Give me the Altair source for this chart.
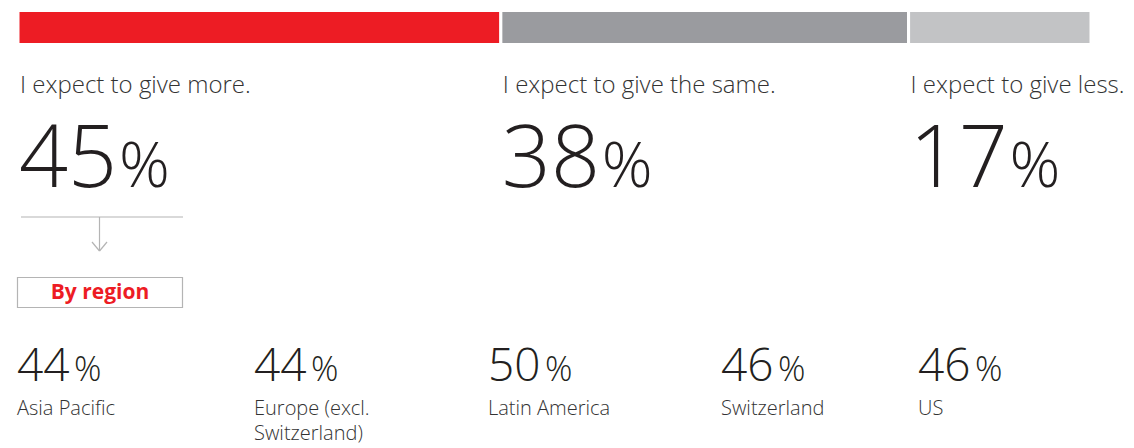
import altair as alt
import pandas as pd

# ---- data ----
answer_labels = ["I expect to give more.", "I expect to give the same.", "I expect to give less."]
answer_values = [45, 38, 17]
answer_colors = ["#ED1C24", "#9A9B9F", "#C2C3C5"]

regions = ["Asia Pacific", "Europe (excl.\nSwitzerland)", "Latin America", "Switzerland", "US"]
region_values = [44, 44, 50, 46, 46]

highlight_label = "By region"

# ---- tables ----
top = pd.DataFrame({"answer": answer_labels, "value": answer_values, "color": answer_colors})
top["end"] = top["value"].cumsum()
top["start"] = top["end"] - top["value"]
top["num"] = top["value"].astype(str)

reg = pd.DataFrame({"region": regions, "value": region_values})
reg["idx"] = range(len(reg))
reg["num"] = reg["value"].astype(str)

one = pd.DataFrame({"k": [0]})

FONT = "Open Sans"
DARK = "#231F20"
LINE = "#B4B4B4"

xs = alt.Scale(domain=[0, 100], range=[10, 1083])
base_top = alt.Chart(top)

bars = base_top.mark_rect(stroke="white", strokeWidth=3).encode(
    x=alt.X("start:Q", scale=xs, axis=None),
    x2="end:Q",
    y=alt.value(2.5), y2=alt.value(36.5),
    color=alt.Color("color:N", scale=None),
)

labels = base_top.mark_text(align="left", baseline="middle", font=FONT, fontSize=24,
                            fontWeight=300, color="#333333", dx=2).encode(
    x=alt.X("start:Q", scale=xs, axis=None), y=alt.value(78), text="answer:N")

bignum = base_top.mark_text(align="left", baseline="alphabetic", font=FONT, fontSize=86,
                            fontWeight=300, color=DARK, dx=1).encode(
    x=alt.X("start:Q", scale=xs, axis=None), y=alt.value(179), text="num:N")

bigpct = base_top.mark_text(align="left", baseline="alphabetic", font=FONT, fontSize=63,
                            fontWeight=300, color=DARK, dx=101).encode(
    x=alt.X("start:Q", scale=xs, axis=None), y=alt.value(179), text=alt.value("%"))

# arrow + box
b1 = alt.Chart(one)
hline = b1.mark_rule(color=LINE, strokeWidth=1.2).encode(
    x=alt.value(13), x2=alt.value(175), y=alt.value(209))
vline = b1.mark_rule(color=LINE, strokeWidth=1.2).encode(
    x=alt.value(91.5), y=alt.value(209), y2=alt.value(243))
arm1 = b1.mark_rule(color=LINE, strokeWidth=1.2).encode(
    x=alt.value(84), y=alt.value(234), x2=alt.value(91.5), y2=alt.value(243))
arm2 = b1.mark_rule(color=LINE, strokeWidth=1.2).encode(
    x=alt.value(99), y=alt.value(234), x2=alt.value(91.5), y2=alt.value(243))
box = b1.mark_rect(fill="white", stroke=LINE, strokeWidth=1.2).encode(
    x=alt.value(9.5), x2=alt.value(174.5), y=alt.value(269.5), y2=alt.value(299.5))
boxtext = b1.mark_text(font=FONT, fontSize=21, fontWeight="bold", color="#ED1C24",
                       align="center", baseline="middle").encode(
    x=alt.value(92), y=alt.value(285), text=alt.value(highlight_label))

# regions: piecewise-linear position scale over region order
rs = alt.Scale(domain=[0, 1, 2, 3, 4], range=[9, 246, 480, 713, 910])
base_reg = alt.Chart(reg)
rnum = base_reg.mark_text(align="left", baseline="alphabetic", font=FONT, fontSize=46,
                          fontWeight=300, color=DARK).encode(
    x=alt.X("idx:Q", scale=rs, axis=None), y=alt.value(373), text="num:N")
rpct = base_reg.mark_text(align="left", baseline="alphabetic", font=FONT, fontSize=34,
                          fontWeight=300, color=DARK, dx=57).encode(
    x=alt.X("idx:Q", scale=rs, axis=None), y=alt.value(373), text=alt.value("%"))
rlab = base_reg.mark_text(align="left", baseline="middle", font=FONT, fontSize=20,
                          fontWeight=300, color="#333333", lineBreak="\n", lineHeight=25).encode(
    x=alt.X("idx:Q", scale=rs, axis=None), y=alt.value(401), text="region:N")

chart = alt.layer(
    bars, labels, bignum, bigpct,
    hline, vline, arm1, arm2, box, boxtext,
    rnum, rpct, rlab,
).resolve_scale(x="independent").properties(
    width=1118, height=440, padding=0,
    autosize=alt.AutoSizeParams(type="none"),
).configure_view(stroke=None)

chart.save("out.html", embed_options={"renderer": "svg", "actions": False})
